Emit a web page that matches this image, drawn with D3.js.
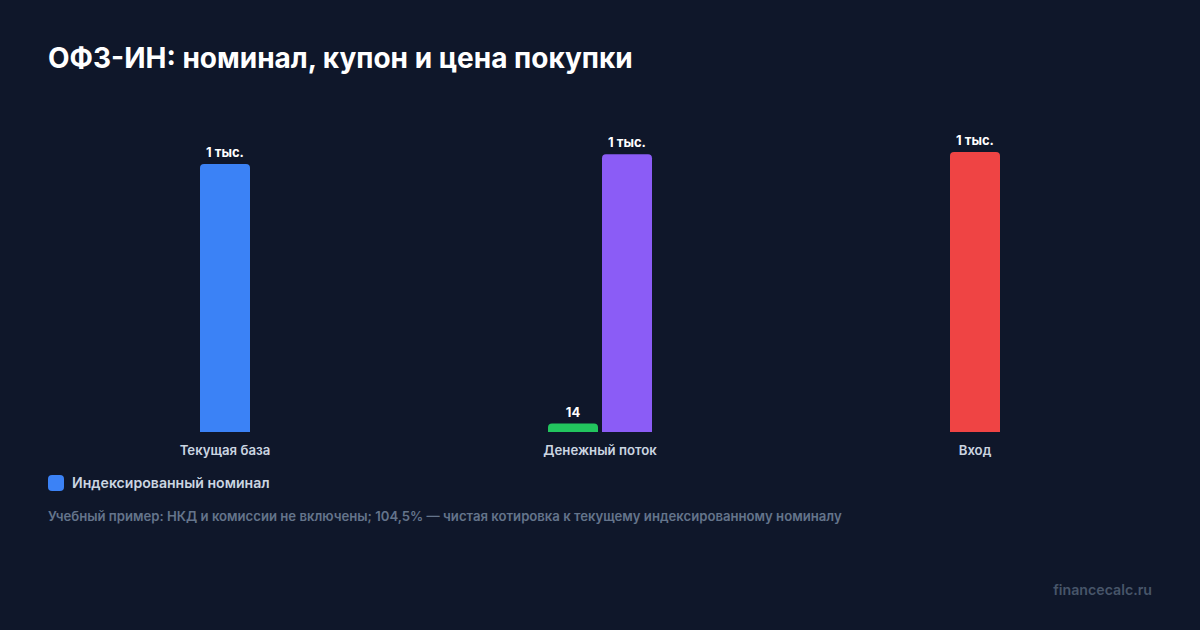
<!DOCTYPE html>
<html><head><meta charset="utf-8">
<script src="https://cdn.jsdelivr.net/npm/d3@7/dist/d3.min.js"></script>
<style>
html,body{margin:0;padding:0;background:#0f172a;}
svg{display:block;font-family:Inter,"Noto Sans",sans-serif;}
</style></head><body>
<svg id="c" width="1200" height="630"></svg>
<script>
const categories = ["Текущая база", "Денежный поток", "Вход"];
const seriesNames = ["Индексированный номинал", "Купон", "Погашение", "Цена покупки"];
const seriesColors = ["#3b82f6", "#22c55e", "#8b5cf6", "#ef4444"];
// values per series, per category (null = absent)
const nominalValues = [1000, null, null];
const couponValues = [null, 14, null];
const redemptionValues = [null, 1037, null];
const purchaseValues = [null, null, 1045];
const legendItems = ["Индексированный номинал"];
const title = "ОФЗ-ИН: номинал, купон и цена покупки";
const note = "Учебный пример: НКД и комиссии не включены; 104,5% — чистая котировка к текущему индексированному номиналу";
const watermark = "financecalc.ru";

const allSeries = [nominalValues, couponValues, redemptionValues, purchaseValues];
const W = 1200, H = 630;
const svg = d3.select("#c");
svg.append("rect").attr("width", W).attr("height", H).attr("fill", "#0f172a");

svg.append("text").attr("x", 48).attr("y", 68).attr("fill", "#ffffff")
  .attr("font-size", 28).attr("font-weight", 700).text(title);

const plot = {left: 37.5, right: 1162.5, top: 152, bottom: 432};
const x = d3.scaleBand().domain(categories).range([plot.left, plot.right]).padding(0);
const maxV = d3.max(allSeries.flat().filter(v => v != null));
const y = d3.scaleLinear().domain([0, maxV]).range([plot.bottom, plot.top]);

const barW = 50, gap = 4, minH = 8.5, r = 4;
function fmt(v) { return v >= 1000 ? Math.round(v / 1000) + " тыс." : d3.format("d")(v); }
function topRounded(x0, y0, w, h, rr) {
  rr = Math.min(rr, h, w / 2);
  return `M${x0},${y0 + h}V${y0 + rr}Q${x0},${y0} ${x0 + rr},${y0}H${x0 + w - rr}Q${x0 + w},${y0} ${x0 + w},${y0 + rr}V${y0 + h}Z`;
}

const bars = [];
categories.forEach((cat, ci) => {
  const present = allSeries.map((s, si) => ({si, v: s[ci]})).filter(d => d.v != null);
  const total = present.length * barW + (present.length - 1) * gap;
  const cx = x(cat) + x.bandwidth() / 2;
  present.forEach((d, k) => {
    bars.push({cat, si: d.si, v: d.v, x0: cx - total / 2 + k * (barW + gap)});
  });
});

const g = svg.append("g");
g.selectAll("path.bar").data(bars).join("path").attr("class", "bar")
  .attr("fill", d => seriesColors[d.si])
  .attr("d", d => {
    const h = Math.max(minH, y(0) - y(d.v));
    return topRounded(d.x0, y(0) - h, barW, h, r);
  });
g.selectAll("text.val").data(bars).join("text").attr("class", "val")
  .attr("x", d => d.x0 + barW / 2)
  .attr("y", d => y(0) - Math.max(minH, y(0) - y(d.v)) - 7)
  .attr("text-anchor", "middle").attr("fill", "#ffffff")
  .attr("font-size", 13).attr("font-weight", 700).text(d => fmt(d.v));

const xAxis = svg.append("g").attr("transform", `translate(0,${plot.bottom})`)
  .call(d3.axisBottom(x).tickSize(0).tickPadding(0));
xAxis.select(".domain").remove();
xAxis.selectAll("text").attr("dy", null).attr("y", 23).attr("fill", "#cbd5e1")
  .attr("font-size", 13.2).attr("font-weight", 600).attr("font-family", "Inter,'Noto Sans',sans-serif");

const leg = svg.append("g").attr("transform", "translate(48,475)");
legendItems.forEach((name, i) => {
  const si = seriesNames.indexOf(name);
  leg.append("rect").attr("x", 0).attr("y", 0).attr("width", 16).attr("height", 16)
    .attr("rx", 4).attr("fill", seriesColors[si]);
  leg.append("text").attr("x", 24).attr("y", 13).attr("fill", "#cbd5e1")
    .attr("font-size", 14.1).attr("font-weight", 600).text(name);
});

svg.append("text").attr("x", 48).attr("y", 521).attr("fill", "#64748b")
  .attr("font-size", 13.15).attr("font-weight", 600).text(note);

svg.append("text").attr("x", 1152).attr("y", 595).attr("text-anchor", "end")
  .attr("fill", "#475569").attr("font-size", 14.2).attr("font-weight", 600).text(watermark);
</script></body></html>
